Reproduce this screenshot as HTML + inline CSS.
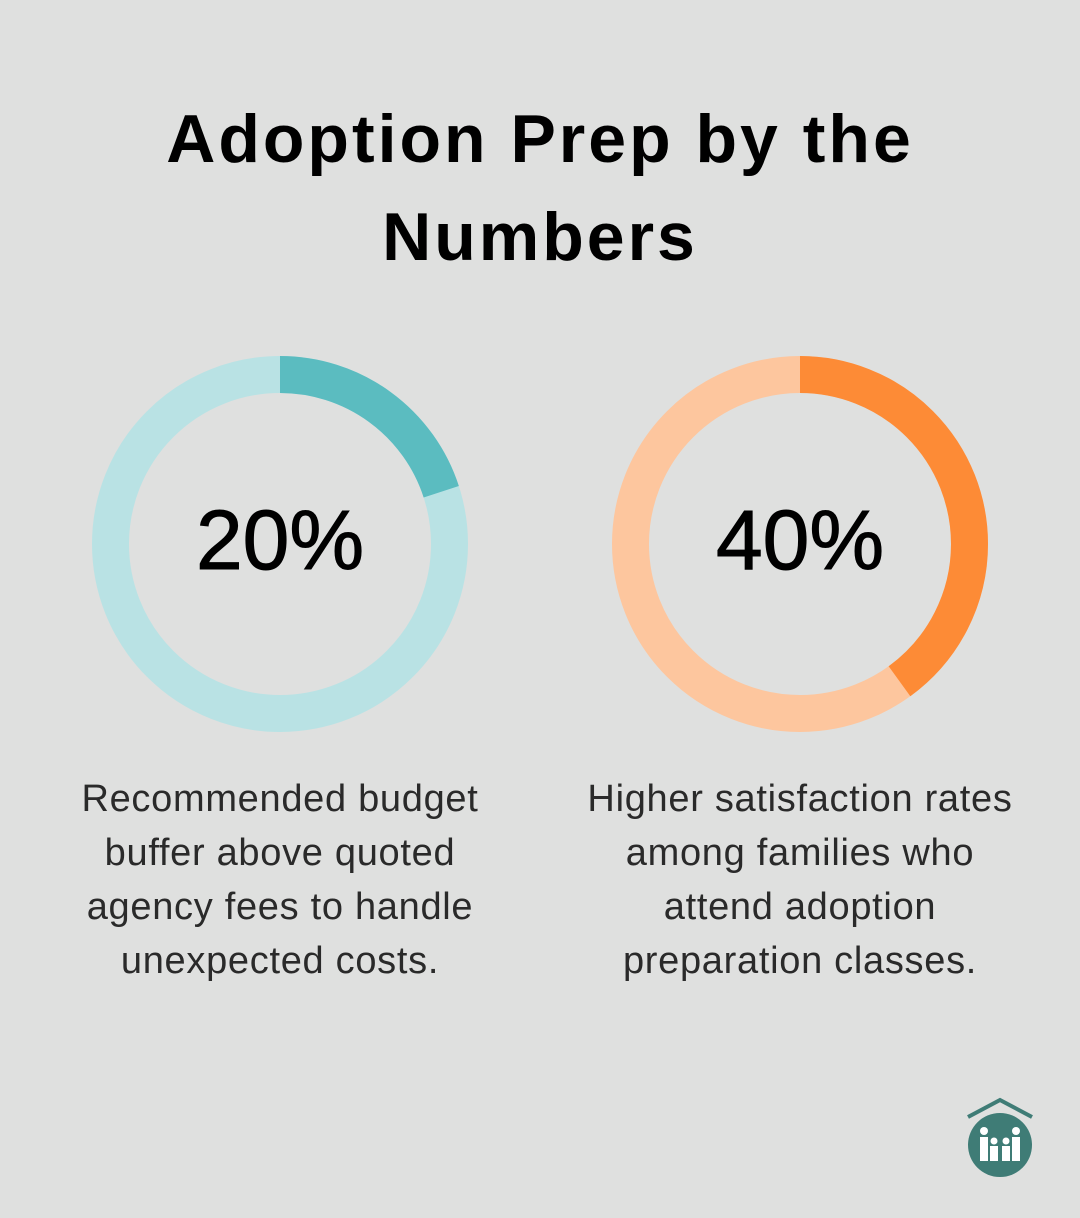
<!DOCTYPE html>
<html><head><style>
html,body{margin:0;padding:0;}
body{width:1080px;height:1218px;background:#dfe0df;position:relative;font-family:"Liberation Sans",sans-serif;overflow:hidden;}
.t{position:absolute;left:0;width:1080px;text-align:center;font-weight:bold;font-size:68px;letter-spacing:3px;color:#000;line-height:98px;top:90px;}
.d{position:absolute;top:354px;width:380px;height:380px;}
.n{position:absolute;top:490px;width:380px;text-align:center;font-size:84px;color:#000;line-height:100px;-webkit-text-stroke:1px #000;}
.p{position:absolute;top:772px;width:520px;text-align:center;font-size:38px;letter-spacing:0.7px;color:#2a2a2a;line-height:54px;}
</style></head><body>
<div class="t">Adoption Prep by the<br>Numbers</div>
<svg class="d" style="left:90px" viewBox="0 0 380 380">
<circle cx="190" cy="190" r="169.5" fill="none" stroke="#b9e2e4" stroke-width="37"/>
<circle cx="190" cy="190" r="169.5" fill="none" stroke="#5bbcc0" stroke-width="37" stroke-dasharray="213 2000" transform="rotate(-90 190 190)"/>
</svg>
<svg class="d" style="left:610px" viewBox="0 0 380 380">
<circle cx="190" cy="190" r="169.5" fill="none" stroke="#fdc69e" stroke-width="37"/>
<circle cx="190" cy="190" r="169.5" fill="none" stroke="#fd8b36" stroke-width="37" stroke-dasharray="426 2000" transform="rotate(-90 190 190)"/>
</svg>
<div class="n" style="left:90px">20%</div>
<div class="n" style="left:610px">40%</div>
<div class="p" style="left:20px">Recommended budget<br>buffer above quoted<br>agency fees to handle<br>unexpected costs.</div>
<div class="p" style="left:540px">Higher satisfaction rates<br>among families who<br>attend adoption<br>preparation classes.</div>
<svg style="position:absolute;left:960px;top:1095px" width="80" height="90" viewBox="0 0 80 90">
<polyline points="8,22 40,5 72,22" fill="none" stroke="#3f7c76" stroke-width="4"/>
<circle cx="40" cy="50" r="32" fill="#3f7c76"/>
<g fill="#fff">
<circle cx="24" cy="36" r="4"/><rect x="20" y="42" width="8" height="24"/>
<circle cx="56" cy="36" r="4"/><rect x="52" y="42" width="8" height="24"/>
<circle cx="34" cy="46" r="3.5"/><rect x="30" y="51" width="8" height="15"/>
<circle cx="46" cy="46" r="3.5"/><rect x="42" y="51" width="8" height="15"/>
</g>
</svg>
</body></html>
